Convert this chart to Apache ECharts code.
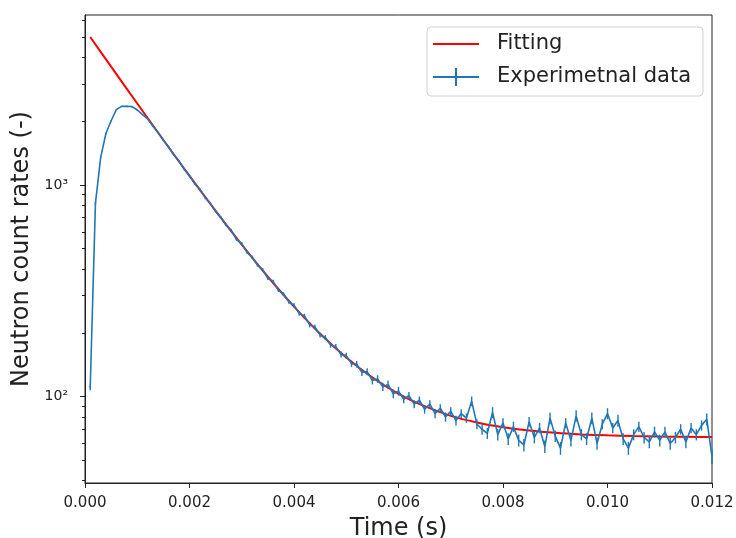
<!DOCTYPE html>
<html>
<head>
<meta charset="utf-8">
<script src="https://cdn.jsdelivr.net/npm/echarts@6/dist/echarts.min.js"></script>
<style>
  html, body { margin: 0; padding: 0; background: #fff; }
  #chart { width: 736px; height: 538px; }
</style>
</head>
<body>
<div id="chart"></div>
<script>
// sampling step of the measured data (s)
const sampleStep = 0.0001

// measured neutron count rates, one per sample
const countRates = [
  110, 820, 1350, 1750, 2010, 2270, 2350, 2355, 2345, 2260,
  2150, 2050, 1895, 1770, 1625, 1512, 1385, 1296, 1185, 1108,
  1012, 952, 870, 818, 748, 702, 645, 610, 552, 528,
  480, 455, 418, 398, 362, 350, 318, 305, 280, 270,
  247, 240, 218, 213, 195, 190, 175, 172, 158, 156,
  143, 142, 130, 131, 119, 121, 111, 114, 103, 106,
  97, 101, 92, 96, 87, 92, 83, 88, 80, 85,
  77, 83, 79, 95, 74, 70, 67, 84, 66, 75,
  63, 72, 62, 59, 76, 64, 71, 58, 79, 65,
  57, 75, 62, 81, 66, 63, 79, 60, 74, 83,
  71, 77, 63, 57, 66, 72, 64, 61, 68, 62,
  68, 60, 64, 70, 61, 71, 66, 73, 78, 52
]

// error bar half-heights
const countErrors = [
  3, 9, 12, 13, 14, 15, 15, 15, 15, 15,
  15, 14, 14, 13, 13, 12, 12, 11, 11, 11,
  10, 10, 10, 9, 9, 9, 8, 8, 8, 8,
  7, 7, 7, 7, 7, 6, 6, 6, 6, 6,
  6, 6, 6, 5, 5, 5, 5, 5, 5, 5,
  5, 5, 5, 5, 5, 5, 5, 5, 5, 5,
  4, 4, 4, 4, 4, 4, 4, 4, 4, 4,
  4, 4, 4, 5, 4, 4, 4, 5, 4, 4,
  4, 4, 4, 4, 4, 4, 4, 4, 5, 4,
  4, 4, 4, 5, 4, 4, 5, 4, 4, 5,
  4, 5, 4, 4, 4, 4, 4, 4, 4, 4,
  4, 4, 4, 4, 4, 4, 4, 4, 5, 4
]

// fitted curve
const fitTimes = [
  0.0001, 0.0005, 0.001, 0.0015, 0.002, 0.0025, 0.003, 0.0035, 0.004, 0.0045,
  0.005, 0.0055, 0.006, 0.0065, 0.007, 0.0075, 0.008, 0.0085, 0.009, 0.0095,
  0.01, 0.0105, 0.011, 0.0115, 0.012
]
const fitValues = [
  5000, 3620, 2424, 1630, 1103, 754, 522, 368, 266, 198,
  153, 123, 103, 90, 81, 75.4, 71.6, 69.0, 67.3, 66.2,
  65.5, 65.0, 64.7, 64.5, 64.3
]

const yMajorTicks = [100, 1000]
const yMinorTicks = [40, 50, 60, 70, 80, 90, 200, 300, 400, 500, 600, 700, 800, 900, 2000, 3000, 4000, 5000, 6000]

const blue = '#1f77b4'
const red = '#ff0000'
const ink = '#222'
const font = 'DejaVu Sans'

const expData = countRates.map((v, i) => [(i + 1) * sampleStep, v, countErrors[i]])
const fitData = fitTimes.map((t, i) => [t, fitValues[i]])

const chart = echarts.init(document.getElementById('chart'), null, { renderer: 'canvas' })

chart.setOption({
  animation: false,
  backgroundColor: '#fff',
  textStyle: { fontFamily: font },
  grid: {
    left: 85,
    right: 24,
    top: 15,
    bottom: 55,
    outerBoundsMode: 'none',
    containLabel: false,
    show: true,
    borderColor: ink,
    borderWidth: 1
  },
  legend: {
    orient: 'vertical',
    left: 427,
    top: 27,
    padding: [6, 12, 8, 6],
    itemGap: 11,
    itemWidth: 46,
    itemHeight: 18,
    borderColor: '#d0d0d0',
    borderWidth: 1,
    borderRadius: 4,
    backgroundColor: 'rgba(255,255,255,0.85)',
    textStyle: {
      fontFamily: font,
      fontSize: 21,
      color: ink,
      lineHeight: 22,
      padding: [0, 0, 0, 13]
    },
    data: [
      { name: 'Fitting', icon: 'path://M0,8H46V10H0Z' },
      { name: 'Experimetnal data', icon: 'path://M0,8H46V10H0Z M22,0H24V18H22Z' }
    ]
  },
  xAxis: {
    type: 'value',
    min: 0,
    max: 0.012,
    interval: 0.002,
    name: 'Time (s)',
    nameLocation: 'middle',
    nameGap: 34,
    nameTextStyle: { fontFamily: font, fontSize: 24, color: ink },
    splitLine: { show: false },
    axisLine: { lineStyle: { color: ink, width: 1 } },
    axisTick: { inside: false, length: 5, lineStyle: { color: ink } },
    axisLabel: {
      margin: 13,
      fontFamily: font,
      fontSize: 15,
      color: ink,
      formatter: v => v.toFixed(3)
    }
  },
  yAxis: [
    {
      type: 'log',
      min: 39.0,
      max: 6353,
      name: 'Neutron count rates (-)',
      nameLocation: 'middle',
      nameGap: 48,
      nameTextStyle: { fontFamily: font, fontSize: 24, color: ink },
      splitLine: { show: false },
      axisLine: { show: true, lineStyle: { color: ink, width: 1 } },
      axisTick: { inside: false, length: 5, lineStyle: { color: ink }, customValues: yMajorTicks },
      axisLabel: {
        margin: 17,
        fontFamily: font,
        fontSize: 14,
        color: ink,
        customValues: yMajorTicks,
        formatter: v => (Math.round(v) === 100 ? '10²' : '10³')
      }
    },
    {
      type: 'log',
      min: 39.0,
      max: 6353,
      position: 'left',
      splitLine: { show: false },
      axisLine: { show: false },
      axisTick: { inside: false, length: 3, lineStyle: { color: ink }, customValues: yMinorTicks },
      axisLabel: { show: false }
    }
  ],
  series: [
    {
      name: 'Fitting',
      type: 'line',
      data: fitData,
      showSymbol: false,
      symbol: 'none',
      smooth: 0.3,
      color: red,
      lineStyle: { color: red, width: 2 },
      z: 2
    },
    {
      name: 'Experimetnal data',
      type: 'line',
      data: expData,
      showSymbol: false,
      symbol: 'none',
      color: blue,
      lineStyle: { color: blue, width: 1.6 },
      z: 3
    },
    {
      name: 'errors',
      type: 'custom',
      data: expData,
      z: 3,
      silent: true,
      renderItem(params, api) {
        const t = api.value(0)
        const v = api.value(1)
        const e = api.value(2)
        const lo = api.coord([t, v - e])
        const hi = api.coord([t, v + e])
        return {
          type: 'line',
          shape: { x1: lo[0], y1: lo[1], x2: hi[0], y2: hi[1] },
          style: { stroke: blue, lineWidth: 1.4 }
        }
      }
    }
  ]
})
</script>
</body>
</html>
